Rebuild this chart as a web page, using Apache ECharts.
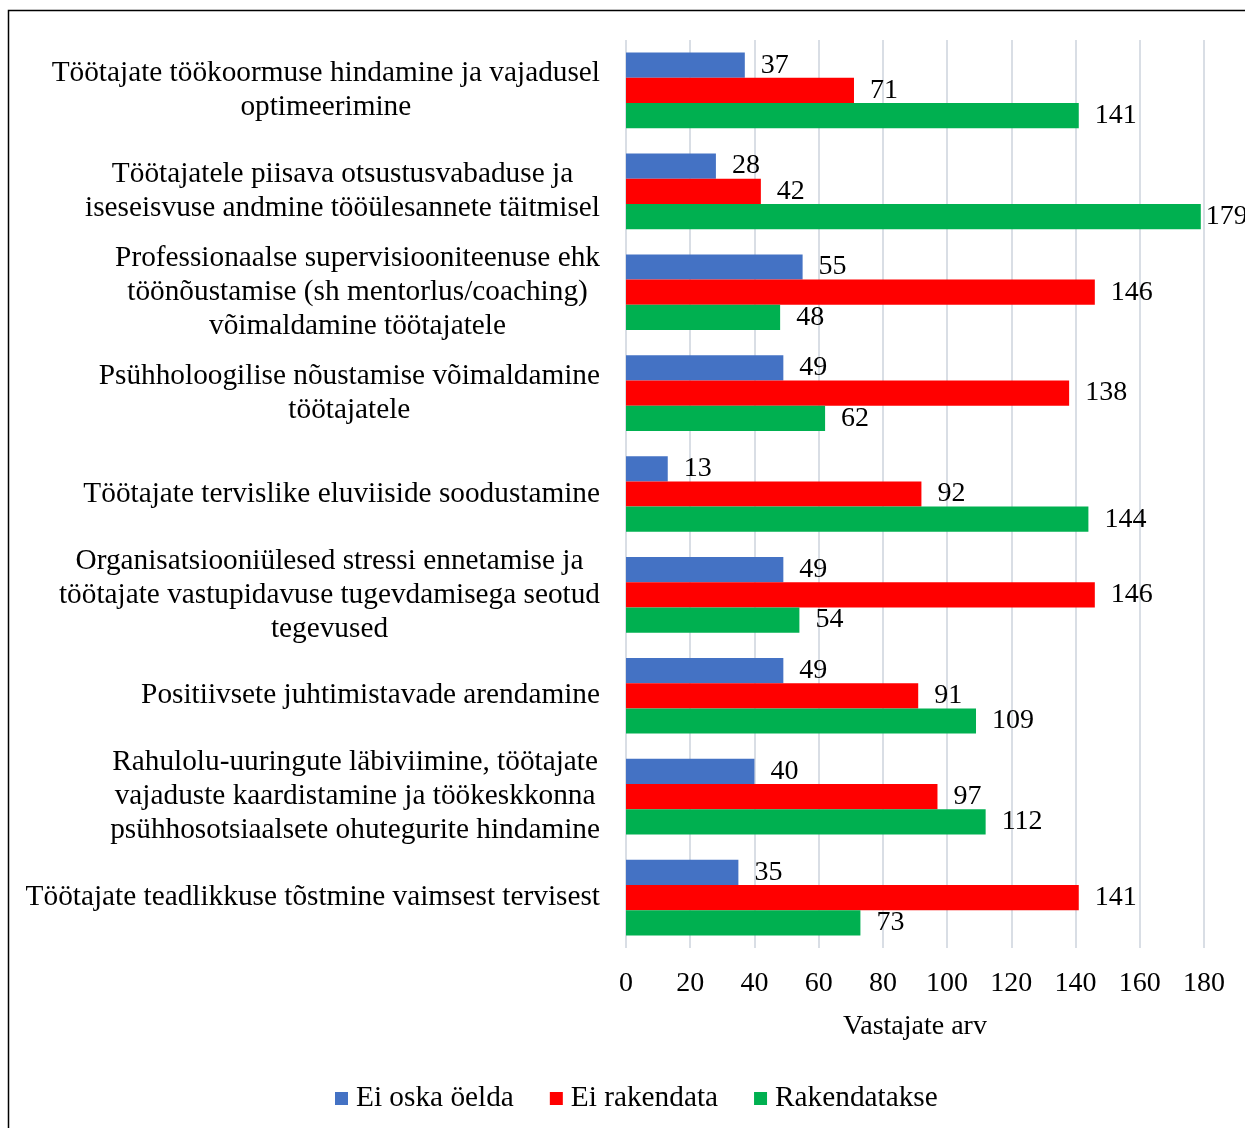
<!DOCTYPE html>
<html>
<head>
<meta charset="utf-8">
<script src="https://cdn.jsdelivr.net/npm/echarts@6/dist/echarts.min.js"></script>
<style>
html,body{margin:0;padding:0;background:#fff;}
#chart{width:1245px;height:1128px;}
</style>
</head>
<body>
<div id="chart"></div>
<script>
const categories = [
  "Töötajate töökoormuse hindamine ja vajadusel\noptimeerimine",
  "Töötajatele piisava otsustusvabaduse ja\niseseisvuse andmine tööülesannete täitmisel",
  "Professionaalse supervisiooniteenuse ehk\ntöönõustamise (sh mentorlus/coaching)\nvõimaldamine töötajatele",
  "Psühholoogilise nõustamise võimaldamine\ntöötajatele",
  "Töötajate tervislike eluviiside soodustamine",
  "Organisatsiooniülesed stressi ennetamise ja\ntöötajate vastupidavuse tugevdamisega seotud\ntegevused",
  "Positiivsete juhtimistavade arendamine",
  "Rahulolu-uuringute läbiviimine, töötajate\nvajaduste kaardistamine ja töökeskkonna\npsühhosotsiaalsete ohutegurite hindamine",
  "Töötajate teadlikkuse tõstmine vaimsest tervisest"
];
const seriesNames = ["Ei oska öelda", "Ei rakendata", "Rakendatakse"];
const eiOskaOelda = [37, 28, 55, 49, 13, 49, 49, 40, 35];
const eiRakendata = [71, 42, 146, 138, 92, 146, 91, 97, 141];
const rakendatakse = [141, 179, 48, 62, 144, 54, 109, 112, 73];
const colors = ["#4472C4", "#FF0000", "#00B050"];
const axisName = "Vastajate arv";

const FONT = '"Liberation Serif", "Times New Roman", serif';
const FS = 28;
const FS_CAT = 29.3;

const chart = echarts.init(document.getElementById('chart'));

function mkSeries(name, data, color) {
  return {
    name: name,
    type: 'bar',
    data: data,
    barGap: '0%',
    barCategoryGap: '25%',
    itemStyle: { color: color },
    label: {
      show: true,
      position: 'right',
      distance: 16,
      color: '#000',
      fontFamily: FONT,
      fontSize: FS
    },
    labelLayout: function (params) {
      const r = params.labelRect;
      if (r.x + r.width > 1245) {
        return { dx: -11 };
      }
      return {};
    }
  };
}

chart.setOption({
  animation: false,
  backgroundColor: '#fff',
  textStyle: { fontFamily: FONT },
  graphic: [{
    type: 'rect',
    silent: true,
    z: 100,
    shape: { x: 8.5, y: 10.5, width: 1400, height: 1400 },
    style: { fill: 'none', stroke: '#000', lineWidth: 1.5 }
  }],
  grid: { left: 626, right: 41, top: 40, bottom: 180, containLabel: false },
  legend: {
    left: 330,
    top: 1079,
    itemWidth: 13,
    itemHeight: 13,
    itemGap: 36,
    icon: 'rect',
    textStyle: { fontFamily: FONT, fontSize: FS_CAT, color: '#000', padding: [0, 0, 0, 3] },
    data: seriesNames
  },
  xAxis: {
    type: 'value',
    min: 0,
    max: 180,
    interval: 20,
    name: axisName,
    nameLocation: 'middle',
    nameGap: 65,
    nameTextStyle: { fontFamily: FONT, fontSize: FS, color: '#000' },
    axisLine: { show: false },
    axisTick: { show: false },
    axisLabel: { fontFamily: FONT, fontSize: FS, color: '#000', margin: 22 },
    splitLine: { show: true, lineStyle: { color: '#D9DEE5', width: 2 } }
  },
  yAxis: {
    type: 'category',
    inverse: true,
    data: categories,
    axisLine: { show: false },
    axisTick: { show: false },
    axisLabel: {
      margin: 26,
      formatter: function (v) {
        return v.split('\n').map(function (l) { return '{c|' + l + '}'; }).join('\n');
      },
      rich: {
        c: { align: 'center', fontFamily: FONT, fontSize: FS_CAT, color: '#000', lineHeight: 34 }
      }
    }
  },
  series: [
    mkSeries(seriesNames[0], eiOskaOelda, colors[0]),
    mkSeries(seriesNames[1], eiRakendata, colors[1]),
    mkSeries(seriesNames[2], rakendatakse, colors[2])
  ]
});
</script>
</body>
</html>
